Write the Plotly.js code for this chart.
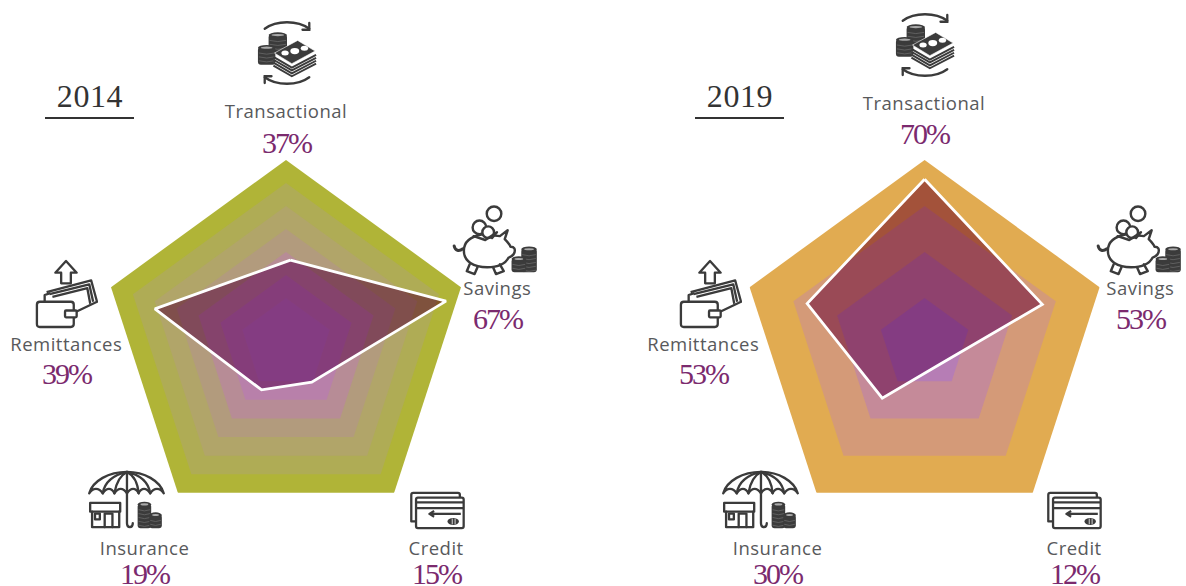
<!DOCTYPE html>
<html><head><meta charset="utf-8">
<script src="https://cdn.plot.ly/plotly-3.0.1.min.js"></script>
<style>html,body{margin:0;padding:0;background:#fff;overflow:hidden}</style>
</head><body><div id="chart" style="width:1186px;height:586px"></div>
<script>
// ---------- data ----------
const categories = ['Transactional','Savings','Credit','Insurance','Remittances'];
const years = ['2014','2019'];
const shares2014 = [37,67,15,19,39];
const shares2019 = [70,53,12,30,53];
// polygon vertices
const radius2014 = [36.5,72,20,22.6,59];
const angle2014  = [87,15,-56,-118,165];
const radius2019 = [71.6,54,11,29.9,54];
const angle2019  = [90,18.6,-54,-128,161];
const axisAngles = [90,18,-54,-126,162];
const levels2014 = [80,70,60,50,40,30,20];
const levels2019 = [80,60,40,20];
const levelColors2014 = ['#B0B437','#AFAC55','#B1A569','#B29B7D','#B78C96','#B880AA','#B67DB5'];
const levelColors2019 = ['#E1AB51','#D49A78','#C58A99','#B67DB5'];

// ---------- styling ----------
const labelGrey = '#58595b', purple = '#7B2A6E', ink = '#3b3b3b';
const W = 1186, H = 586;

function ring(level,color,sub){
  const th = axisAngles.concat(axisAngles[0]);
  return {type:'scatterpolar',subplot:sub,mode:'lines',r:th.map(()=>level),theta:th,
    fill:'toself',fillcolor:color,line:{width:0,color:color},hoverinfo:'skip'};
}
function shape(r,t,sub){
  return {type:'scatterpolar',subplot:sub,mode:'lines',r:r.concat(r[0]),theta:t.concat(t[0]),
    fill:'toself',fillcolor:'#B97AB7',line:{color:'#ffffff',width:2.8},hoverinfo:'skip'};
}
const traces = [];
levels2014.forEach((l,i)=>traces.push(ring(l,levelColors2014[i],'polar')));
traces.push(shape(radius2014,angle2014,'polar'));
levels2019.forEach((l,i)=>traces.push(ring(l,levelColors2019[i],'polar2')));
traces.push(shape(radius2019,angle2019,'polar2'));

function polarBox(cx){
  const R=184, cy=344;
  return {domain:{x:[(cx-R)/W,(cx+R)/W],y:[(H-cy-R)/H,(H-cy+R)/H]},
    bgcolor:'rgba(0,0,0,0)',
    radialaxis:{range:[0,80],visible:false},
    angularaxis:{type:'linear',thetaunit:'degrees',visible:false}};
}

// label anchor centres, [x, name y, value y]
const labelPos2014 = [[286,110,142],[497,287,318],[437,547,573.5],[144,547,573.5],[66,343,374]];
const labelPos2019 = [[924,102,134],[1140,287,318],[1074,547,573.5],[777,547,573.5],[703,343,374]];
const annotations = [];
function addLabels(pos,vals){
  categories.forEach((c,i)=>{
    annotations.push({xref:'paper',yref:'paper',x:pos[i][0]/W,y:1-pos[i][1]/H,text:c,showarrow:false,
      xanchor:'center',yanchor:'middle',font:{family:'Open Sans',size:18.5,color:labelGrey}});
    annotations.push({xref:'paper',yref:'paper',x:pos[i][0]/W,y:1-pos[i][2]/H,text:vals[i]+'%',showarrow:false,
      xanchor:'center',yanchor:'middle',font:{family:'Liberation Serif',size:30,color:purple}});
  });
}
addLabels(labelPos2014,shares2014);
addLabels(labelPos2019,shares2019);
[[90,years[0]],[740,years[1]]].forEach(a=>annotations.push({xref:'paper',yref:'paper',x:a[0]/W,y:1-96/H,text:a[1],
  showarrow:false,xanchor:'center',yanchor:'middle',font:{family:'Liberation Serif',size:32,color:'#333333'}}));

const shapes = [[45,134],[695,784]].map(s=>({type:'line',xref:'paper',yref:'paper',x0:s[0]/W,x1:s[1]/W,
  y0:1-118/H,y1:1-118/H,line:{color:'#333333',width:2}}));

// ---------- icons ----------
function stack(x,y,w,h){
  let s=`<rect x="${x}" y="${y+2}" width="${w}" height="${h-2}" rx="3" fill="${ink}"/>`+
        `<ellipse cx="${x+w/2}" cy="${y+2.5}" rx="${w/2}" ry="2.8" fill="${ink}"/>`+
        `<ellipse cx="${x+w/2}" cy="${y+2.5}" rx="${w/2-3}" ry="1.1" fill="#aaa"/>`;
  for(let yy=y+8;yy<y+h-1;yy+=4) s+=`<path d="M${x+1} ${yy}q${w/2-1} 2.4 ${w-2} 0" stroke="#6a6a6a" stroke-width=".8" fill="none"/>`;
  return s;
}
const iconDefs = {
 Transactional:[62,66,
  `<g fill="none" stroke="${ink}" stroke-width="2.4" stroke-linecap="round">
   <path d="M8 8C20 -1 42 -1 54 8"/><path d="M54 2V9H47"/><path d="M54 58C42 67 20 67 8 58"/><path d="M8 64V57H15"/></g>`+
  stack(12,12,19,20)+stack(1,25,18,20)+
  [12,9,6,3].map(d=>`<path d="M17 ${34+d}L36 ${45+d}L61 ${32+d}" fill="#fff" stroke="${ink}" stroke-width="2"/>`).join('')+
  `<path d="M18 33L42 20L60 31L36 44Z" fill="${ink}" stroke="#fff" stroke-width=".6"/>
   <ellipse cx="29" cy="33" rx="3.8" ry="2.6" fill="#fff"/><ellipse cx="39" cy="31" rx="4.6" ry="3.2" fill="#fff"/><ellipse cx="49" cy="28" rx="3.8" ry="2.6" fill="#fff"/>`],
 Savings:[88,72,
  `<g fill="none" stroke="${ink}" stroke-width="2.5" stroke-linejoin="round" stroke-linecap="round">
   <circle cx="43" cy="8" r="7.5"/>
   <path d="M12 46C12 36 20 31 31 29L49 31L57 25L54 34C57 37 59 39 60 42C64 42 65 44 64 48C63 51 61 52 58 53C55 59 47 63 36 63C22 63 12 57 12 46Z"/>
   <path d="M18 60L15 67L23 70L26 63M42 63L45 70L53 67L49 60"/>
   <circle cx="28" cy="22" r="7" fill="#fff"/><circle cx="37" cy="27" r="6" fill="#fff"/>
   <path d="M22 31L34 35L46 27L41 33"/>
   <path d="M11 44C7 47 3 46 2 41" stroke-width="3"/></g>`+
  stack(71,42,16,26)+stack(61,52,15,16)],
 Credit:[58,40,
  `<g fill="none" stroke="${ink}" stroke-width="2.4" stroke-linejoin="round">
   <path d="M6 31H2V3Q2 1 4 1H51Q53 1 53 3V6"/>
   <rect x="7" y="6" width="50" height="32" rx="2" fill="#fff"/>
   <path d="M7 11H57M7 17H57"/><path d="M54 23H22"/><path d="M26 20L21 23L26 26" /></g>
   <ellipse cx="46" cy="31" rx="6" ry="3.6" fill="${ink}"/><path d="M45 28V34M48 28V34" stroke="#ddd" stroke-width="1"/>`],
 Insurance:[80,62,
  `<g fill="none" stroke="${ink}" stroke-width="2.4" stroke-linejoin="round" stroke-linecap="round">
   <path d="M2 23C6 10 22 1 41 1C59 1 75 10 79 23C75 17 69 17 65 23C61 17 56 17 53 23C50 17 45 17 41 23C37 17 32 17 28 23C25 17 20 17 16 23C12 17 6 17 2 23Z"/>
   <path d="M28 23C30 11 35 4 41 1C47 4 52 11 53 23M16 23C18 11 28 4 41 1C54 4 63 11 65 23"/>
   <path d="M41 1V54Q41 58 44 58T47 54"/>
   <rect x="3" y="33" width="31" height="9"/><path d="M5 42V58H33V42"/>
   <rect x="8" y="44" width="5" height="6"/><path d="M18 58V44H26V58"/></g>`+
  stack(52,32,14,27)+stack(64,43,13,16)],
 Remittances:[64,74,
  `<g fill="none" stroke="${ink}" stroke-width="2.4" stroke-linejoin="round">
   <path d="M32 2L21 14H27V25H37V14H43Z"/>
   <path d="M12 34L58 22L64 44L43 54"/><path d="M15 36L56 26L60 44"/><path d="M18 39L54 30L57 46"/>
   <path d="M10 44V37L16 35M5 44H37Q40 44 40 47V67Q40 70 37 70H5Q2 70 2 67V47Q2 44 5 44Z" fill="#fff"/>
   <rect x="31" y="53" width="12" height="7" rx="1" fill="#fff"/></g>`]
};
function svgURI(def){
  const svg=`<svg xmlns="http://www.w3.org/2000/svg" width="${def[0]}" height="${def[1]}" viewBox="-1 -1 ${def[0]+2} ${def[1]+2}">${def[2]}</svg>`;
  return 'data:image/svg+xml;charset=utf-8,'+encodeURIComponent(svg);
}
// top-left corner of each icon
const iconPos2014 = [[256,20],[451,205],[408,491],[86,470],[34,258]];
const iconPos2019 = [[894,12],[1095,205],[1045,491],[720,470],[678,258]];
const images = [];
[iconPos2014,iconPos2019].forEach(p=>categories.forEach((c,i)=>{
  const d=iconDefs[c];
  images.push({source:svgURI(d),xref:'paper',yref:'paper',x:p[i][0]/W,y:1-p[i][1]/H,
    sizex:d[0]/W,sizey:d[1]/H,xanchor:'left',yanchor:'top',sizing:'stretch',layer:'above'});
}));

const layout = {width:W,height:H,margin:{l:0,r:0,t:0,b:0},paper_bgcolor:'#fff',showlegend:false,
  polar:polarBox(286),polar2:polarBox(924.6),annotations,shapes,images,hovermode:false};

Plotly.newPlot('chart',traces,layout,{displayModeBar:false,staticPlot:true}).then(()=>{
  document.querySelectorAll('.annotation-text').forEach(t=>{
    const s=t.textContent;
    if(s.endsWith('%')) t.style.letterSpacing='-2px';
    else if(categories.includes(s)) t.style.letterSpacing='0.5px';
    else t.style.letterSpacing='0.6px';
  });
  // the data polygon darkens what lies under it, as in the reference
  document.querySelectorAll('.scatterlayer .trace').forEach(tr=>{
    const fill=tr.querySelector('.js-fill');
    if(fill && fill.style.fill.replace(/\s/g,'')==='rgb(185,122,183)') fill.style.mixBlendMode='multiply';
  });
});
</script></body></html>
